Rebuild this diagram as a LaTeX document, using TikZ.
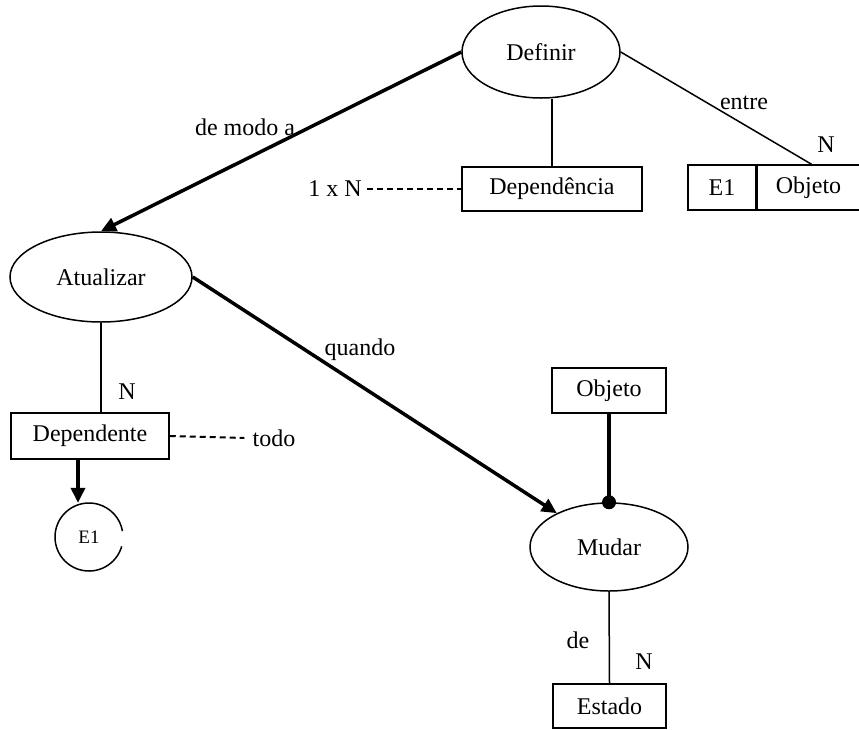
\documentclass[tikz,border=0pt]{standalone}
\usepackage{fontspec}
\setmainfont{Liberation Serif}
\usetikzlibrary{shapes.geometric,arrows.meta,calc}
\begin{document}
\begin{tikzpicture}[x=1pt,y=-1pt,
  every node/.style={font=\fontsize{24}{28}\selectfont},
  ell/.style={draw,ellipse,line width=1.5pt,inner sep=0pt},
  box/.style={draw,rectangle,line width=1.5pt,inner sep=0pt},
  thin/.style={line width=1.5pt},
  thickline/.style={line width=3.5pt},
  thickarrow/.style={line width=3.5pt,-{Triangle[length=15pt,width=14pt]}},
  dashline/.style={line width=2pt,dash pattern=on 6pt off 4pt},
  lbl/.style={inner sep=0pt}]
\useasboundingbox (0,0) rectangle (859,729);
% nodes
\node[ell,minimum width=158pt,minimum height=92pt] (def) at (541,52) {Definir};
\node[box,minimum width=180pt,minimum height=44pt] (dep) at (552,189) {Dependência};
\node[inner sep=5pt] (onen) at (335,189) {1 x N};
\node[box,minimum width=68pt,minimum height=45pt] (e1b) at (722,187.5) {E1};
\node[box,minimum width=102pt,minimum height=45pt,anchor=west] (obj1) at (e1b.east) {Objeto};
\node[ell,minimum width=182pt,minimum height=90pt] (atu) at (101,277) {Atualizar};
\node[box,minimum width=158pt,minimum height=46pt] (dpt) at (90,436) {Dependente};
\node[inner sep=0pt] (todo) at (274,438) {todo};
\node[circle,minimum size=68pt,inner sep=0pt,font=\fontsize{19}{22}\selectfont] (e1c) at (89,537) {E1};
\draw[thin] ($(e1c.center)+(16:34)$) arc[start angle=16,end angle=350,radius=34];
\node[box,minimum width=114pt,minimum height=45pt] (obj2) at (609,390.5) {Objeto};
\node[ell,minimum width=158pt,minimum height=88pt] (mud) at (609,547) {Mudar};
\node[box,minimum width=113pt,minimum height=44pt] (est) at (609.5,706) {Estado};
% labels
\node[lbl] (l1) at (245,127) {de modo a};
\node[lbl] (l2) at (744,103) {entre};
\node[lbl] (l3) at (826,145) {N};
\node[lbl] (l4) at (360,350) {quando};
\node[lbl] (l5) at (127,392) {N};
\node[lbl] (l6) at (578,640) {de};
\node[lbl] (l7) at (644,662) {N};
% connectors
\draw[thin] (dep.north) -- (dep.north |- def.south);
\draw[dashline] (onen.east) -- (dep.west);
\draw[thin] (def.east) -- ($(obj1.north)+(3,0)$);
\draw[thickarrow] (def.west) -- (atu.north);
\draw[thickarrow] (atu.east) -- (mud);
\draw[thin] (atu.south) -- (atu.south |- dpt.north);
\draw[dashline] (dpt.east) -- ($(todo.west)+(-8,0)$);
\coordinate (ds) at ($(dpt.south)+(-12,0)$);
\draw[thickarrow] (ds) -- (ds |- e1c.north);
\draw[thickline] (obj2.south) -- (mud.north);
\fill (mud.north) circle (7);
\draw[thin] (mud.south) -- (est.north);
\end{tikzpicture}
\end{document}
